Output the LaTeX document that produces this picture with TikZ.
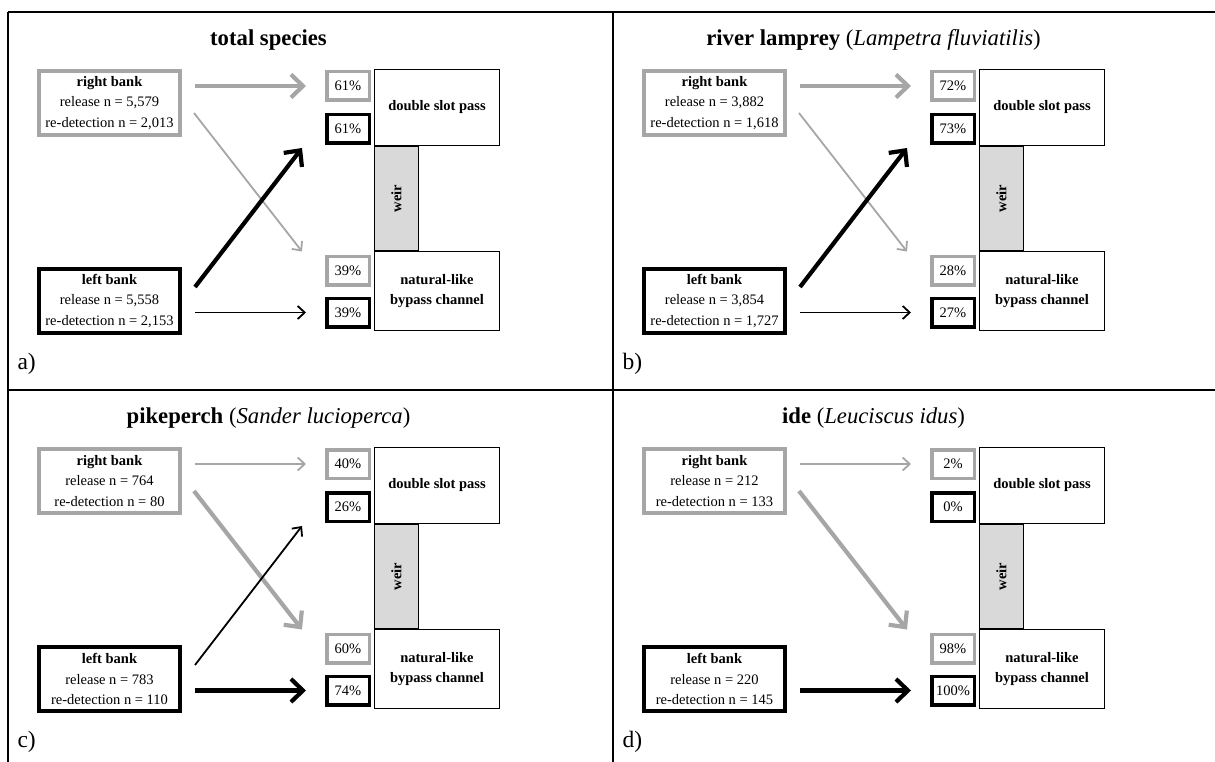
\documentclass[tikz,border=0pt]{standalone}
\usepackage{fontspec}
\setmainfont{Liberation Serif}
\usetikzlibrary{positioning,arrows.meta}

\definecolor{lightgr}{RGB}{166,166,166}
\definecolor{weirgr}{RGB}{217,217,217}

% one panel: title, right bank numbers, left bank numbers, letter
\newcommand{\fishpanel}[6]{%
  \node(title) [font=\fontsize{22.7}{27}\selectfont] at (268.5,40) {#1};
  \node(rb) [bank,draw=lightgr] at (109.5,103) {\textbf{right bank}\\release n = #2\\re-detection n = #3};
  \node(lb) [bank] at (109.5,301) {\textbf{left bank}\\release n = #4\\re-detection n = #5};
  \node(dsp) [pass,minimum height=76pt] at (437,107.5) {\textbf{double slot pass}};
  \node(weir) [pass,anchor=north west,minimum width=44pt,minimum height=104pt,fill=weirgr,
     label={[rotate=90,font=\fontsize{14.5}{17}\bfseries]center:weir}] at (dsp.south west) {};
  \node(nlb) [pass,anchor=north west,minimum height=79pt] at (weir.south west)
     {\textbf{natural-like}\\\textbf{bypass channel}};
  \node(tag) [anchor=west,font=\fontsize{23.5}{26}\selectfont] at (14,364) {#6)};
}
% the four shares beside the passes
\newcommand{\shares}[4]{%
  \node(gtop) [share,draw=lightgr] at (348,86) {#1};
  \node(ktop) [share] at (348,129) {#2};
  \node(gbot) [share,draw=lightgr] at (348,270.5) {#3};
  \node(kbot) [share] at (348,312.5) {#4};
}

\begin{document}
\begin{tikzpicture}[x=1pt,y=-1pt,
  bank/.style={rectangle, draw=black, line width=4pt, minimum width=141pt, minimum height=64pt,
    inner sep=0pt, align=center, font=\fontsize{14.5}{20.5}\selectfont},
  share/.style={rectangle, draw=black, line width=3.5pt, minimum width=42.5pt, minimum height=28.5pt,
    inner sep=0pt, font=\fontsize{14.5}{17}\selectfont},
  pass/.style={rectangle, draw=black, line width=1pt, minimum width=125pt, inner sep=0pt,
    align=center, font=\fontsize{14.5}{20}\selectfont},
  wide/.style={line width=4.2pt, -{Straight Barb[length=12pt,width=23pt]}},
  narrow/.style={line width=1.8pt, -{Straight Barb[length=7pt,width=13pt]}},
  frame/.style={line width=2pt},
]
\useasboundingbox (0,0) rectangle (1215,762);

\draw[frame] (8,12) -- (1215,12);
\draw[frame] (8,390) -- (1215,390);
\draw[frame] (8,12) -- (8,762);
\draw[frame] (613,12) -- (613,762);

\begin{scope}[name prefix=a-]
\fishpanel{\textbf{total species}}{5,579}{2,013}{5,558}{2,153}{a}
\shares{61\%}{61\%}{39\%}{39\%}
\draw[wide,lightgr] ([xshift=13pt]rb.east |- gtop.west) -- ([xshift=-19pt]gtop.west);
\draw[narrow,lightgr] ([shift={(12,10)}]rb.east) -- ([shift={(-23,-3)}]gbot.north west);
\draw[wide] ([shift={(13,-14)}]lb.east) -- ([shift={(-23,3)}]ktop.south west);
\draw[narrow] ([xshift=13pt]lb.east |- kbot.west) -- ([xshift=-19pt]kbot.west);
\end{scope}

\begin{scope}[shift={(605,0)},name prefix=b-]
\fishpanel{\textbf{river lamprey} (\textit{Lampetra fluviatilis})}{3,882}{1,618}{3,854}{1,727}{b}
\shares{72\%}{73\%}{28\%}{27\%}
\draw[wide,lightgr] ([xshift=13pt]rb.east |- gtop.west) -- ([xshift=-19pt]gtop.west);
\draw[narrow,lightgr] ([shift={(12,10)}]rb.east) -- ([shift={(-23,-3)}]gbot.north west);
\draw[wide] ([shift={(13,-14)}]lb.east) -- ([shift={(-23,3)}]ktop.south west);
\draw[narrow] ([xshift=13pt]lb.east |- kbot.west) -- ([xshift=-19pt]kbot.west);
\end{scope}

\begin{scope}[shift={(0,378)},name prefix=c-]
\fishpanel{\textbf{pikeperch} (\textit{Sander lucioperca})}{764}{80}{783}{110}{c}
\shares{40\%}{26\%}{60\%}{74\%}
\draw[narrow,lightgr] ([xshift=13pt]rb.east |- gtop.west) -- ([xshift=-19pt]gtop.west);
\draw[wide,lightgr] ([shift={(12,10)}]rb.east) -- ([shift={(-23,-3)}]gbot.north west);
\draw[narrow] ([shift={(13,-14)}]lb.east) -- ([shift={(-23,3)}]ktop.south west);
\draw[wide] ([xshift=13pt]lb.east |- kbot.west) -- ([xshift=-19pt]kbot.west);
\end{scope}

\begin{scope}[shift={(605,378)},name prefix=d-]
\fishpanel{\textbf{ide} (\textit{Leuciscus idus})}{212}{133}{220}{145}{d}
\shares{2\%}{0\%}{98\%}{100\%}
\draw[narrow,lightgr] ([xshift=13pt]rb.east |- gtop.west) -- ([xshift=-19pt]gtop.west);
\draw[wide,lightgr] ([shift={(12,10)}]rb.east) -- ([shift={(-23,-3)}]gbot.north west);
\draw[wide] ([xshift=13pt]lb.east |- kbot.west) -- ([xshift=-19pt]kbot.west);
\end{scope}

\end{tikzpicture}
\end{document}
